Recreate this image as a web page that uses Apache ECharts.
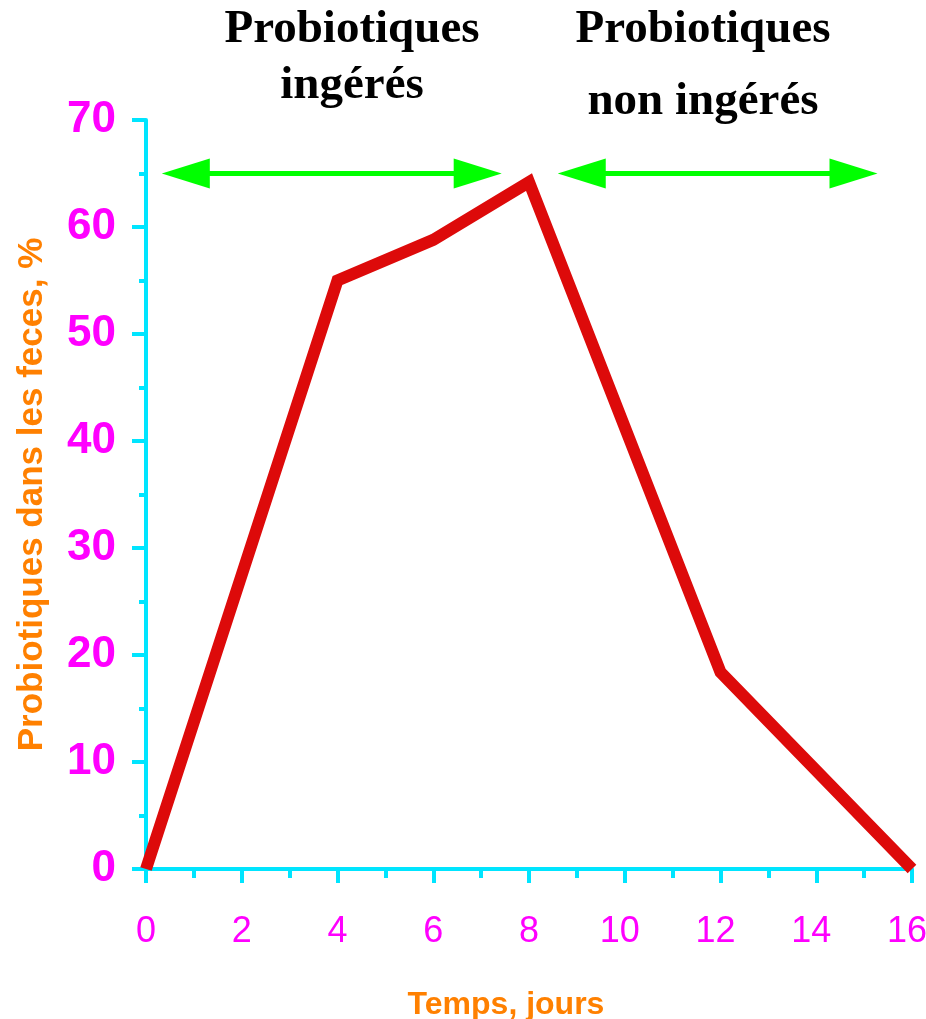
<!DOCTYPE html>
<html>
<head>
<meta charset="utf-8">
<script src="https://cdn.jsdelivr.net/npm/echarts@6/dist/echarts.min.js"></script>
<style>
  html, body { margin: 0; padding: 0; background: #fff; }
  #chart { width: 926px; height: 1019px; }
</style>
</head>
<body>
<div id="chart"></div>
<script>
// Days and share of probiotics found in feces (%)
const days = [0, 4, 6, 8, 12, 16];
const share = [0, 55, 58.8, 64.2, 18.4, 0];
const xTicks = [0, 2, 4, 6, 8, 10, 12, 14, 16];
const yTicks = [0, 10, 20, 30, 40, 50, 60, 70];
// Periods: [start day, end day, level]
const periods = [[0.33, 7.43, 65], [8.6, 15.28, 65]];
const periodTitles = [['Probiotiques', 'ingérés'], ['Probiotiques', 'non ingérés']];

const CYAN = '#00E5FF';
const MAGENTA = '#FF00FF';
const ORANGE = '#FF8000';
const TITLE_FONT = 'bold 47px "Liberation Serif", "Times New Roman", serif';
const SANS = '"Liberation Sans", Arial, sans-serif';

const chart = echarts.init(document.getElementById('chart'));

function arrowItem(params, api) {
  const a = api.coord([api.value(0), api.value(2)]);
  const b = api.coord([api.value(1), api.value(2)]);
  const len = 48, half = 15;
  return {
    type: 'group',
    children: [
      { type: 'line', shape: { x1: a[0] + len - 2, y1: a[1], x2: b[0] - len + 2, y2: b[1] },
        style: { stroke: '#00FF00', lineWidth: 5 } },
      { type: 'polygon', shape: { points: [[a[0], a[1]], [a[0] + len, a[1] - half], [a[0] + len, a[1] + half]] },
        style: { fill: '#00FF00' } },
      { type: 'polygon', shape: { points: [[b[0], b[1]], [b[0] - len, b[1] - half], [b[0] - len, b[1] + half]] },
        style: { fill: '#00FF00' } }
    ]
  };
}

function titleText(text, x, y) {
  return { type: 'text', x: x, y: y, style: { text: text, textAlign: 'center', textVerticalAlign: 'middle', font: TITLE_FONT, fill: '#000' } };
}

chart.setOption({
  animation: false,
  backgroundColor: '#fff',
  grid: { left: 146, right: 14, top: 120, bottom: 150, containLabel: false, outerBoundsMode: 'none' },
  graphic: [
    titleText(periodTitles[0][0], 352, 30),
    titleText(periodTitles[0][1], 352, 86),
    titleText(periodTitles[1][0], 703, 30),
    titleText(periodTitles[1][1], 703, 102)
  ],
  xAxis: {
    type: 'value', min: xTicks[0], max: xTicks[xTicks.length - 1], interval: 2,
    name: 'Temps, jours', nameLocation: 'middle', nameGap: 120,
    nameTextStyle: { color: ORANGE, fontSize: 32, fontWeight: 'bold', fontFamily: SANS, padding: [0, 46, 0, 0] },
    axisLine: { lineStyle: { color: CYAN, width: 4 } },
    axisTick: { inside: false, length: 14, lineStyle: { color: CYAN, width: 4 } },
    minorTick: { show: true, splitNumber: 2, length: 9, lineStyle: { color: CYAN, width: 4 } },
    splitLine: { show: false },
    axisLabel: {
      color: MAGENTA, fontSize: 36, fontFamily: SANS, margin: 45,
      formatter: v => (v >= 10 ? '{wide|' + v + '}' : String(v)),
      rich: { wide: { color: MAGENTA, fontSize: 36, fontFamily: SANS, padding: [0, 10, 0, 0] } }
    }
  },
  yAxis: {
    type: 'value', min: yTicks[0], max: yTicks[yTicks.length - 1], interval: 10,
    name: 'Probiotiques dans les feces, %', nameLocation: 'middle', nameGap: 96,
    nameTextStyle: { color: ORANGE, fontSize: 35, fontWeight: 'bold', fontFamily: SANS },
    axisLine: { show: true, lineStyle: { color: CYAN, width: 4 } },
    axisTick: { show: true, length: 14, lineStyle: { color: CYAN, width: 4 } },
    minorTick: { show: true, splitNumber: 2, length: 7, lineStyle: { color: CYAN, width: 4 } },
    splitLine: { show: false },
    axisLabel: { color: MAGENTA, fontSize: 44, fontWeight: 'bold', fontFamily: SANS, margin: 30 }
  },
  series: [
    {
      type: 'line',
      data: days.map((d, i) => [d, share[i]]),
      symbol: 'none',
      lineStyle: { color: '#DD0A0A', width: 12, join: 'miter', cap: 'butt' },
      z: 3
    },
    {
      type: 'custom',
      data: periods,
      renderItem: arrowItem,
      z: 4
    }
  ]
});
</script>
</body>
</html>
